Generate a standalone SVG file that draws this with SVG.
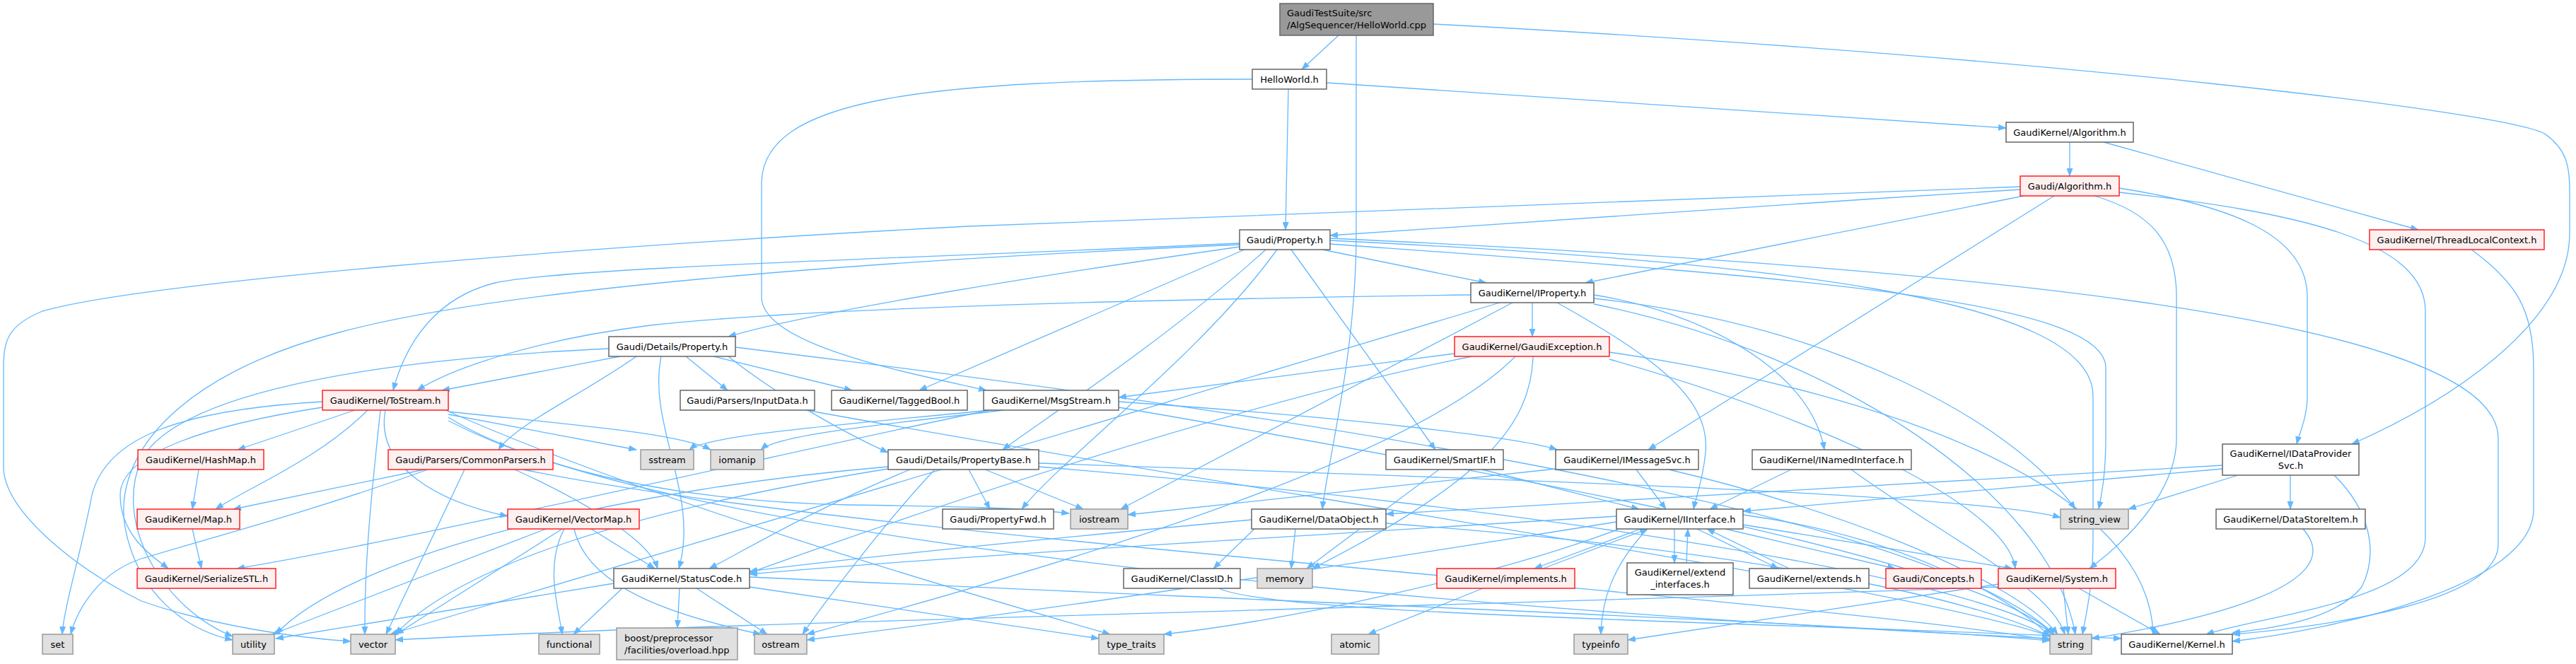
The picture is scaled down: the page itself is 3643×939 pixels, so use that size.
<svg xmlns="http://www.w3.org/2000/svg" width="3643" height="939" viewBox="0 0 3643 939">
<defs>
<marker id="a" markerWidth="12" markerHeight="9" refX="11" refY="4.5" orient="auto" markerUnits="userSpaceOnUse"><path d="M0,0 L12,4.5 L0,9 z" fill="#63b8ff"/></marker>
<style>
.e path{fill:none;stroke:#63b8ff;stroke-width:1.3;marker-end:url(#a)}
rect{stroke-width:1.5}
.w rect{fill:#ffffff;stroke:#666666}
.r rect{fill:#fff0f0;stroke:#ff2020}
.g rect{fill:#e0e0e0;stroke:#999999}
.m rect{fill:#999999;stroke:#666666}
text{font-family:"DejaVu Sans","Liberation Sans",sans-serif;font-size:13px;fill:#000000;text-anchor:middle}
.l{text-anchor:start}
</style>
</defs>
<rect width="3643" height="939" fill="#ffffff"/>
<g class="e" id="edges">
<path d="M1893,50 L1841,98"/>
<path d="M1918,50 L1918,330 C1918,500 1878,650 1870,720"/>
<path d="M2027,34 C2900,80 3560,160 3600,190 C3630,212 3634,235 3634,270 L3634,330 C3634,450 3480,560 3326,628"/>
<path d="M1822,126 L1818,325"/>
<path d="M1876,117 L2837,181"/>
<path d="M1771,112 C1300,112 1077,140 1077,260 L1077,420 C1077,490 1300,530 1395,552"/>
<path d="M2927,201 L2927,249"/>
<path d="M2975,201 L3420,325"/>
<path d="M2857,268 C2500,290 2100,318 1881,333"/>
<path d="M2862,277 C2600,330 2350,378 2242,400"/>
<path d="M2905,277 L2331,636"/>
<path d="M2997,266 C3150,290 3263,330 3263,420 L3263,560 C3263,590 3252,612 3248,628"/>
<path d="M2962,277 C3040,300 3078,340 3078,420 L3078,620 C3078,700 3000,770 2955,804"/>
<path d="M2997,272 C3250,300 3430,340 3430,440 L3430,760 C3430,850 3200,870 3120,897"/>
<path d="M2857,264 C2400,280 1900,297 1369,320 C800,350 200,400 60,440 C12,460 5,480 5,520 L5,660 C5,720 100,800 200,850 C300,885 420,902 496,907"/>
<path d="M3495,353 C3560,400 3583,440 3583,520 L3583,720 C3583,830 3300,890 3157,907"/>
<path d="M1753,349 C1500,385 1150,440 1030,476"/>
<path d="M1790,353 C1650,480 1480,590 1418,636"/>
<path d="M1806,353 C1700,500 1500,650 1445,720"/>
<path d="M1870,353 L2102,400"/>
<path d="M1826,353 L2030,636"/>
<path d="M1760,353 L1300,552"/>
<path d="M1753,344 C1300,365 800,378 700,400 C620,420 575,480 556,552"/>
<path d="M1753,346 C1200,370 700,410 480,470 C250,530 150,650 180,760 C200,840 260,890 329,905"/>
<path d="M1881,340 C2500,370 2960,420 2960,560 L2960,760 C2960,830 2950,870 2945,897"/>
<path d="M1881,345 C2500,390 2978,420 2978,520 L2978,620 C2978,670 2972,700 2968,720"/>
<path d="M1881,337 C2700,375 3533,440 3533,620 L3533,770 C3533,850 3300,885 3157,897"/>
<path d="M2167,428 L2167,476"/>
<path d="M2202,428 C2330,500 2420,560 2412,640 C2408,680 2398,705 2395,720"/>
<path d="M2254,417 C2400,440 2560,520 2580,636"/>
<path d="M2080,417 C1500,425 1100,440 920,460 C760,480 640,520 590,552"/>
<path d="M2139,428 L1585,720"/>
<path d="M2121,428 L552,897"/>
<path d="M2254,430 C2600,500 2900,700 2935,897"/>
<path d="M2254,422 C2600,460 2850,600 2935,720"/>
<path d="M2057,500 L1582,562"/>
<path d="M2082,504 C1700,580 1200,760 1060,810"/>
<path d="M2168,504 C2165,600 2100,680 1856,804"/>
<path d="M2276,508 C2600,600 2840,720 2850,804"/>
<path d="M2276,498 C2700,560 3040,700 3045,897"/>
<path d="M2143,504 C2000,650 1500,800 1141,897"/>
<path d="M1030,504 C1100,560 1200,615 1256,640"/>
<path d="M900,504 C820,560 730,600 705,636"/>
<path d="M970,504 L1029,552"/>
<path d="M1009,504 L1205,552"/>
<path d="M877,504 L625,552"/>
<path d="M935,504 C915,600 990,700 960,804"/>
<path d="M861,493 C500,510 250,560 200,650 C160,740 230,860 329,900"/>
<path d="M1040,491 C1600,560 2700,700 2905,897"/>
<path d="M502,580 L336,636"/>
<path d="M520,580 C450,650 350,690 305,720"/>
<path d="M538,580 C525,700 515,800 516,897"/>
<path d="M545,580 C530,660 620,710 718,730"/>
<path d="M634,586 L900,636"/>
<path d="M634,582 C800,600 960,612 1005,636"/>
<path d="M456,568 C250,580 150,620 130,700 C115,780 90,860 88,897"/>
<path d="M456,576 C300,600 170,640 170,700 C170,760 220,790 238,804"/>
<path d="M634,590 C900,760 2000,860 2899,903"/>
<path d="M634,595 C800,680 1000,710 1200,714 C1350,716 1450,718 1512,726"/>
<path d="M630,580 C900,700 1300,820 1570,897"/>
<path d="M281,664 L272,720"/>
<path d="M272,748 L285,804"/>
<path d="M1582,568 C1900,590 2150,618 2202,636"/>
<path d="M1400,580 C1200,620 600,760 335,804"/>
<path d="M1400,580 C1200,600 1000,615 975,636"/>
<path d="M1420,580 C1250,600 1100,615 1076,636"/>
<path d="M1582,576 C2300,700 2800,800 2905,897"/>
<path d="M600,664 L330,720"/>
<path d="M605,664 C450,720 300,760 200,790 C140,810 110,860 100,897"/>
<path d="M657,664 L546,897"/>
<path d="M728,664 C850,720 920,770 930,804"/>
<path d="M740,664 C1200,760 2500,840 2899,905"/>
<path d="M772,748 L385,897"/>
<path d="M795,748 L560,897"/>
<path d="M798,748 C770,800 790,860 795,897"/>
<path d="M812,748 C830,830 950,870 1076,897"/>
<path d="M836,748 L926,804"/>
<path d="M868,825 L390,903"/>
<path d="M880,832 L811,897"/>
<path d="M961,832 L958,888"/>
<path d="M985,832 L1085,897"/>
<path d="M1060,816 C1800,850 2600,880 2899,906"/>
<path d="M1060,830 L1554,903"/>
<path d="M1370,664 L1400,720"/>
<path d="M1393,664 L1532,720"/>
<path d="M1287,664 C1150,720 1050,780 1003,804"/>
<path d="M1322,664 C1250,740 1160,860 1135,897"/>
<path d="M1469,660 C2200,720 2800,820 2905,897"/>
<path d="M1469,655 C2200,680 2800,700 2914,732"/>
<path d="M1256,660 C900,690 500,780 390,897"/>
<path d="M1256,663 C900,720 650,800 559,897"/>
<path d="M2096,664 L2318,720"/>
<path d="M2035,664 L1848,804"/>
<path d="M2314,664 L2356,720"/>
<path d="M2200,663 L1595,728"/>
<path d="M2360,664 C2600,720 2850,820 2910,897"/>
<path d="M2533,664 L2418,720"/>
<path d="M2618,664 C2750,760 2900,830 2920,897"/>
<path d="M1774,748 L1716,804"/>
<path d="M1832,748 L1826,804"/>
<path d="M1770,735 C1500,760 1200,790 1060,808"/>
<path d="M1960,740 C2500,780 2800,850 2899,900"/>
<path d="M1724,832 C1800,870 2500,880 3000,903"/>
<path d="M2320,748 L2170,804"/>
<path d="M2182,804 L2330,748"/>
<path d="M2368,748 L2368,796"/>
<path d="M2385,796 L2387,748"/>
<path d="M2400,748 L2515,804"/>
<path d="M2530,804 L2414,748"/>
<path d="M2440,748 L2680,804"/>
<path d="M2465,742 L2846,804"/>
<path d="M2330,748 C2280,800 2265,850 2264,897"/>
<path d="M2286,730 C1800,760 1300,790 1060,812"/>
<path d="M2286,738 C1900,800 1500,860 1141,905"/>
<path d="M2465,728 C2700,760 2850,850 2899,900"/>
<path d="M2290,748 C2100,820 1800,880 1646,897"/>
<path d="M2097,832 L1935,897"/>
<path d="M2940,832 L3055,897"/>
<path d="M2918,832 L2925,897"/>
<path d="M2826,826 L2302,905"/>
<path d="M2826,830 C2000,860 1000,880 559,905"/>
<path d="M3143,658 L1960,727"/>
<path d="M3143,663 L2465,723"/>
<path d="M3165,672 L3010,720"/>
<path d="M3239,672 L3239,720"/>
<path d="M3301,672 C3350,720 3365,780 3340,830 C3300,880 3200,890 3157,895"/>
<path d="M3257,748 C3330,830 3100,880 2958,903"/>
<path d="M1140,580 C1800,700 2700,830 2900,900"/>
</g>
<g id="n0" class="m"><rect x="1810" y="5" width="217" height="45"/><text class="l" x="1820" y="23">GaudiTestSuite/src</text><text class="l" x="1820" y="40">/AlgSequencer/HelloWorld.cpp</text></g>
<g id="n1" class="w"><rect x="1771" y="98" width="105" height="28"/><text x="1823.5" y="116.5">HelloWorld.h</text></g>
<g id="n2" class="w"><rect x="2837" y="173" width="180" height="28"/><text x="2927" y="191.5">GaudiKernel/Algorithm.h</text></g>
<g id="n3" class="r"><rect x="2857" y="249" width="140" height="28"/><text x="2927" y="267.5">Gaudi/Algorithm.h</text></g>
<g id="n4" class="r"><rect x="3351" y="325" width="247" height="28"/><text x="3474.5" y="343.5">GaudiKernel/ThreadLocalContext.h</text></g>
<g id="n5" class="w"><rect x="1753" y="325" width="128" height="28"/><text x="1817" y="343.5">Gaudi/Property.h</text></g>
<g id="n6" class="w"><rect x="2080" y="400" width="174" height="28"/><text x="2167" y="418.5">GaudiKernel/IProperty.h</text></g>
<g id="n7" class="r"><rect x="2057" y="476" width="219" height="28"/><text x="2166.5" y="494.5">GaudiKernel/GaudiException.h</text></g>
<g id="n8" class="w"><rect x="861" y="476" width="179" height="28"/><text x="950.5" y="494.5">Gaudi/Details/Property.h</text></g>
<g id="n9" class="r"><rect x="456" y="552" width="178" height="28"/><text x="545" y="570.5">GaudiKernel/ToStream.h</text></g>
<g id="n10" class="w"><rect x="962" y="552" width="190" height="28"/><text x="1057" y="570.5">Gaudi/Parsers/InputData.h</text></g>
<g id="n11" class="w"><rect x="1176" y="552" width="192" height="28"/><text x="1272" y="570.5">GaudiKernel/TaggedBool.h</text></g>
<g id="n12" class="w"><rect x="1391" y="552" width="191" height="28"/><text x="1486.5" y="570.5">GaudiKernel/MsgStream.h</text></g>
<g id="n13" class="r"><rect x="195" y="636" width="178" height="28"/><text x="284" y="654.5">GaudiKernel/HashMap.h</text></g>
<g id="n14" class="r"><rect x="549" y="636" width="233" height="28"/><text x="665.5" y="654.5">Gaudi/Parsers/CommonParsers.h</text></g>
<g id="n15" class="g"><rect x="906" y="636" width="75" height="28"/><text x="943.5" y="654.5">sstream</text></g>
<g id="n16" class="g"><rect x="1005" y="636" width="75" height="28"/><text x="1042.5" y="654.5">iomanip</text></g>
<g id="n17" class="w"><rect x="1256" y="636" width="213" height="28"/><text x="1362.5" y="654.5">Gaudi/Details/PropertyBase.h</text></g>
<g id="n18" class="w"><rect x="1960" y="636" width="166" height="28"/><text x="2043" y="654.5">GaudiKernel/SmartIF.h</text></g>
<g id="n19" class="w"><rect x="2200" y="636" width="202" height="28"/><text x="2301" y="654.5">GaudiKernel/IMessageSvc.h</text></g>
<g id="n20" class="w"><rect x="2478" y="636" width="225" height="28"/><text x="2590.5" y="654.5">GaudiKernel/INamedInterface.h</text></g>
<g id="n21" class="w"><rect x="3143" y="628" width="193" height="44"/><text x="3239.5" y="646">GaudiKernel/IDataProvider</text><text x="3239.5" y="663">Svc.h</text></g>
<g id="n22" class="r"><rect x="194" y="720" width="145" height="28"/><text x="266.5" y="738.5">GaudiKernel/Map.h</text></g>
<g id="n23" class="r"><rect x="718" y="720" width="186" height="28"/><text x="811" y="738.5">GaudiKernel/VectorMap.h</text></g>
<g id="n24" class="w"><rect x="1333" y="720" width="157" height="28"/><text x="1411.5" y="738.5">Gaudi/PropertyFwd.h</text></g>
<g id="n25" class="g"><rect x="1514" y="720" width="81" height="28"/><text x="1554.5" y="738.5">iostream</text></g>
<g id="n26" class="w"><rect x="1770" y="720" width="190" height="28"/><text x="1865" y="738.5">GaudiKernel/DataObject.h</text></g>
<g id="n27" class="w"><rect x="2286" y="720" width="179" height="28"/><text x="2375.5" y="738.5">GaudiKernel/IInterface.h</text></g>
<g id="n28" class="g"><rect x="2914" y="720" width="96" height="28"/><text x="2962" y="738.5">string_view</text></g>
<g id="n29" class="w"><rect x="3134" y="720" width="211" height="28"/><text x="3239.5" y="738.5">GaudiKernel/DataStoreItem.h</text></g>
<g id="n30" class="r"><rect x="194" y="804" width="196" height="28"/><text x="292" y="822.5">GaudiKernel/SerializeSTL.h</text></g>
<g id="n31" class="w"><rect x="868" y="804" width="192" height="28"/><text x="964" y="822.5">GaudiKernel/StatusCode.h</text></g>
<g id="n32" class="w"><rect x="1589" y="804" width="165" height="28"/><text x="1671.5" y="822.5">GaudiKernel/ClassID.h</text></g>
<g id="n33" class="g"><rect x="1778" y="804" width="78" height="28"/><text x="1817" y="822.5">memory</text></g>
<g id="n34" class="r"><rect x="2032" y="804" width="195" height="28"/><text x="2129.5" y="822.5">GaudiKernel/implements.h</text></g>
<g id="n35" class="w"><rect x="2301" y="796" width="150" height="45"/><text x="2376" y="814">GaudiKernel/extend</text><text x="2376" y="831">_interfaces.h</text></g>
<g id="n36" class="w"><rect x="2474" y="804" width="169" height="28"/><text x="2558.5" y="822.5">GaudiKernel/extends.h</text></g>
<g id="n37" class="r"><rect x="2667" y="804" width="135" height="28"/><text x="2734.5" y="822.5">Gaudi/Concepts.h</text></g>
<g id="n38" class="r"><rect x="2826" y="804" width="166" height="28"/><text x="2909" y="822.5">GaudiKernel/System.h</text></g>
<g id="n39" class="g"><rect x="60" y="897" width="43" height="28"/><text x="81.5" y="915.5">set</text></g>
<g id="n40" class="g"><rect x="329" y="897" width="59" height="28"/><text x="358.5" y="915.5">utility</text></g>
<g id="n41" class="g"><rect x="496" y="897" width="63" height="28"/><text x="527.5" y="915.5">vector</text></g>
<g id="n42" class="g"><rect x="762" y="897" width="86" height="28"/><text x="805" y="915.5">functional</text></g>
<g id="n43" class="g"><rect x="872" y="888" width="171" height="45"/><text class="l" x="883" y="907">boost/preprocessor</text><text class="l" x="883" y="924">/facilities/overload.hpp</text></g>
<g id="n44" class="g"><rect x="1067" y="897" width="74" height="28"/><text x="1104" y="915.5">ostream</text></g>
<g id="n45" class="g"><rect x="1554" y="897" width="92" height="28"/><text x="1600" y="915.5">type_traits</text></g>
<g id="n46" class="g"><rect x="1883" y="897" width="67" height="28"/><text x="1916.5" y="915.5">atomic</text></g>
<g id="n47" class="g"><rect x="2226" y="897" width="76" height="28"/><text x="2264" y="915.5">typeinfo</text></g>
<g id="n48" class="g"><rect x="2899" y="897" width="59" height="28"/><text x="2928.5" y="915.5">string</text></g>
<g id="n49" class="w"><rect x="3000" y="897" width="157" height="28"/><text x="3078.5" y="915.5">GaudiKernel/Kernel.h</text></g>
</svg>
